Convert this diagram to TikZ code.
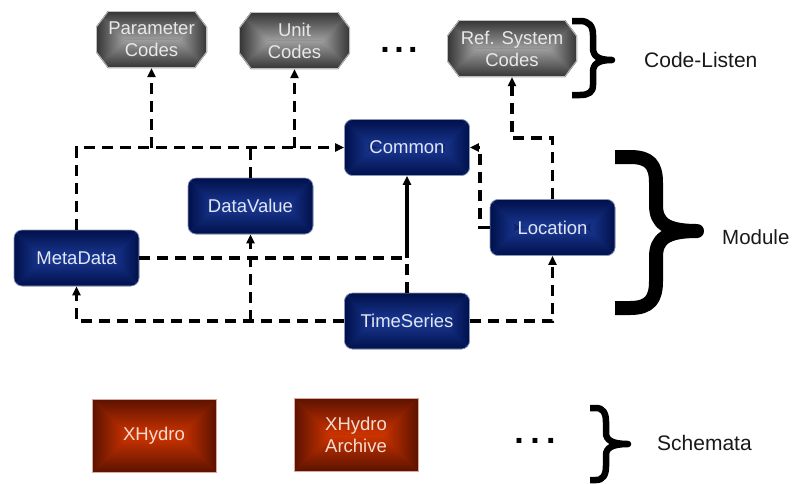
\documentclass[tikz,border=0pt]{standalone}
\usepackage{fontspec}
\setmainfont{Liberation Sans}
\usetikzlibrary{arrows.meta,calc}

\definecolor{navyedge}{RGB}{0,16,74}
\definecolor{navymid}{RGB}{26,56,148}
\definecolor{bluerim}{RGB}{140,152,185}
\definecolor{bluetext}{RGB}{226,231,243}
\definecolor{grayedge}{RGB}{52,52,52}
\definecolor{graymid}{RGB}{158,158,158}
\definecolor{grayrim}{RGB}{190,190,190}
\definecolor{graytext}{RGB}{232,232,232}
\definecolor{rededge}{RGB}{92,18,0}
\definecolor{redmid}{RGB}{206,52,0}
\definecolor{redrim}{RGB}{215,170,160}
\definecolor{redtext}{RGB}{246,220,210}

\newcommand\boxfont{\fontsize{18.5}{22}\selectfont}

% gradient running from the border of the path picture towards its centre
\newcommand\centregrad[2]{%
  \fill[#2!50!#1] (path picture bounding box.south west) rectangle (path picture bounding box.north east);
  \shade[top color=#1,bottom color=#2]
    let \p1=(path picture bounding box.north west), \p2=(path picture bounding box.south east), \n1={(\y1-\y2)/2}
    in (\x1,\y1) -- (\x2,\y1) -- ({\x2-\n1},{\y1-\n1}) -- ({\x1+\n1},{\y1-\n1}) -- cycle;
  \shade[top color=#2,bottom color=#1]
    let \p1=(path picture bounding box.north west), \p2=(path picture bounding box.south east), \n1={(\y1-\y2)/2}
    in (\x1,\y2) -- (\x2,\y2) -- ({\x2-\n1},{\y2+\n1}) -- ({\x1+\n1},{\y2+\n1}) -- cycle;
  \shade[left color=#1,right color=#2]
    let \p1=(path picture bounding box.north west), \p2=(path picture bounding box.south east), \n1={(\y1-\y2)/2}
    in (\x1,\y1) -- ({\x1+\n1},{\y1-\n1}) -- (\x1,\y2) -- cycle;
  \shade[left color=#2,right color=#1]
    let \p1=(path picture bounding box.north west), \p2=(path picture bounding box.south east), \n1={(\y1-\y2)/2}
    in (\x2,\y1) -- ({\x2-\n1},{\y1-\n1}) -- (\x2,\y2) -- cycle;
}

% octagon with chamfered corners, shaded and outlined
\newcommand\octfill[2]{%
  \begin{scope}
    \clip let \p1=(path picture bounding box.north west), \p2=(path picture bounding box.south east) in
      ({\x1+12},\y1) -- ({\x2-12},\y1) -- (\x2,{\y1-16}) -- (\x2,{\y2+16}) --
      ({\x2-12},\y2) -- ({\x1+12},\y2) -- (\x1,{\y2+16}) -- (\x1,{\y1-16}) -- cycle;
    \centregrad{#1}{#2}
  \end{scope}
  \draw[grayrim, line width=0.8pt]
    let \p1=(path picture bounding box.north west), \p2=(path picture bounding box.south east) in
      ({\x1+12.2},{\y1-0.4}) -- ({\x2-12.2},{\y1-0.4}) -- ({\x2-0.4},{\y1-16.2}) -- ({\x2-0.4},{\y2+16.2}) --
      ({\x2-12.2},{\y2+0.4}) -- ({\x1+12.2},{\y2+0.4}) -- ({\x1+0.4},{\y2+16.2}) -- ({\x1+0.4},{\y1-16.2}) -- cycle;
}

\begin{document}
\begin{tikzpicture}[x=1pt,y=-1pt,
  module/.style={rectangle, rounded corners=8pt, minimum width=125pt, minimum height=56pt,
    inner sep=0pt, draw=bluerim, line width=0.7pt, text=bluetext, font=\boxfont,
    path picture={\centregrad{navyedge}{navymid}}},
  codelist/.style={rectangle, minimum width=111pt, minimum height=57pt, inner sep=0pt,
    text=graytext, font=\boxfont, align=center, path picture={\octfill{grayedge}{graymid}}},
  schema/.style={rectangle, minimum width=124pt, minimum height=73pt, inner sep=0pt,
    draw=redrim, line width=0.7pt, text=redtext, font=\boxfont, align=center,
    path picture={\centregrad{rededge}{redmid}}},
  grouplabel/.style={anchor=west, inner sep=0pt, text=black!90},
  dline/.style={line width=3.6pt, dash pattern=on 11pt off 7pt},
  sline/.style={line width=3.6pt},
  brace/.style={line cap=butt, line join=round},
  >={Triangle[length=9pt,width=8pt]}
]
\useasboundingbox (0,0) rectangle (792,483);
\fill[white] (0,0) rectangle (792,483);

% code lists
\node[codelist] (pc) at (151.5,39.5) {Parameter\\Codes};
\node[codelist] (uc) at (294.5,40.5) {Unit\\Codes};
\node[codelist, minimum width=130pt] (rc) at (512,48.5) {Ref. System\\Codes};
\node[font=\fontsize{34}{34}\selectfont\bfseries, inner sep=0pt] (dots1) at (399,50) {.\hspace{4.5pt}.\hspace{4.5pt}.};

% modules
\node[module] (common) at (407,147.5) {Common};
\node[module] (datavalue) at (250.5,206) {DataValue};
\node[module] (metadata) at (76.5,258) {MetaData};
\node[module] (location) at (552.5,227.5) {Location};
\node[module] (timeseries) at (407,321) {TimeSeries};

% schemata
\node[schema] (xhydro) at (154,435.5) {XHydro};
\node[schema] (archive) at (356,434.5) {XHydro\\Archive};
\node[font=\fontsize{34}{34}\selectfont\bfseries, inner sep=0pt] (dots2) at (535,441) {.\hspace{6.5pt}.\hspace{6.5pt}.};

% dependencies
\draw[dline,->] (metadata.north) |- (common.west);
\draw[dline,->] (pc.south |- common.west) -- (pc.south);
\draw[dline] (datavalue.north) -- (datavalue.north |- common.west);
\draw[dline,->] (uc.south |- common.west) -- (uc.south);

\coordinate (join) at (common.south |- metadata.east);
\draw[dline] (metadata.east) -- (join);
\draw[dline] (timeseries.north) -- (join);
\draw[sline,->] (join) -- (common.south);

\draw[dline,->] (timeseries.west) -| (metadata.south);
\draw[dline,->] (datavalue.south |- timeseries.west) -- (datavalue.south);
\draw[dline,->] (timeseries.east) -| (location.south);

\coordinate (locbend) at (480,227.5);
\draw[dline,->] (location.west) -- (locbend) |- (common.east);
\draw[dline,->] (location.north) -- ++(0,-61) -| (rc.south);

% group braces and labels
\draw[brace, line width=6.5pt] (572,21) -- (580,21) .. controls (589,21) and (593,26) .. (593,35)
  -- (593,48) .. controls (593,56) and (598,60) .. (612,60)
  .. controls (598,60) and (593,64) .. (593,72) -- (593,85)
  .. controls (593,92) and (589,95) .. (580,95) -- (572,95);
\node[grouplabel, font=\fontsize{21}{24}\selectfont] (lbcode) at (644,60) {Code-Listen};

\draw[brace, line width=14pt] (615,157) -- (630,157) .. controls (650,157) and (656,165) .. (656,183)
  -- (656,205) .. controls (656,223) and (666,231) .. (697,231)
  .. controls (666,231) and (656,239) .. (656,257) -- (656,281)
  .. controls (656,299) and (650,308) .. (630,308) -- (615,308);
\node[grouplabel, font=\fontsize{20.5}{24}\selectfont] (lbmod) at (722,237) {Module};

\draw[brace, line width=6.5pt] (590,408) -- (596,408) .. controls (603,408) and (606,413) .. (606,422)
  -- (606,433) .. controls (606,440) and (612,444) .. (628,444)
  .. controls (612,444) and (606,448) .. (606,455) -- (606,466)
  .. controls (606,475) and (603,480) .. (596,480) -- (590,480);
\node[grouplabel, font=\fontsize{21}{24}\selectfont] (lbschema) at (657,443) {Schemata};
\end{tikzpicture}
\end{document}
